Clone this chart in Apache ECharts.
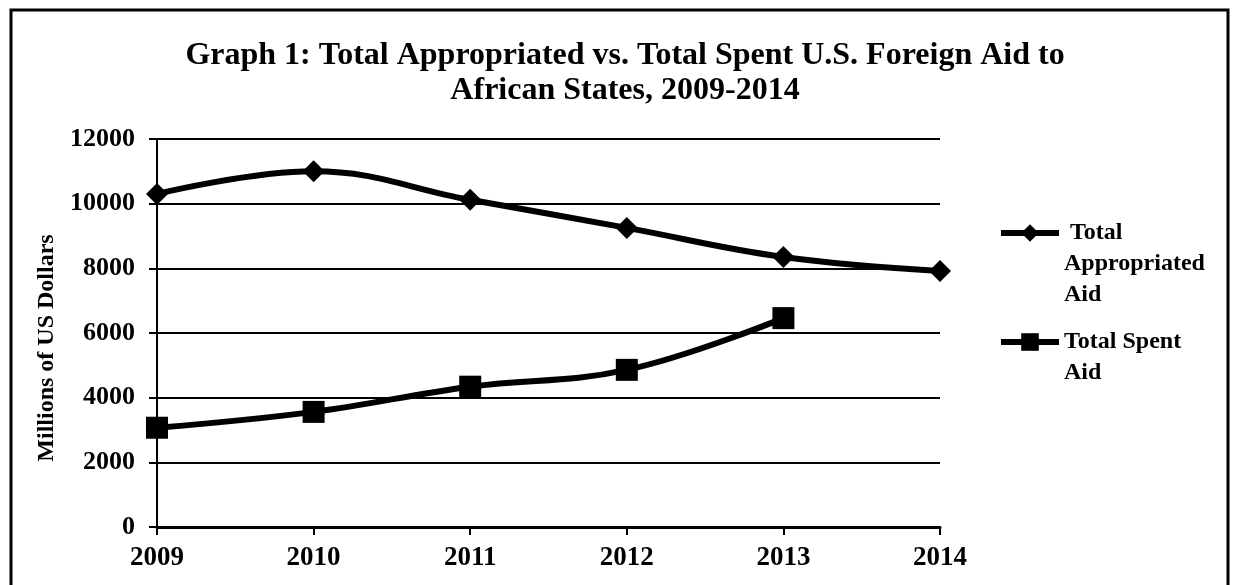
<!DOCTYPE html>
<html>
<head>
<meta charset="utf-8">
<script src="https://cdn.jsdelivr.net/npm/echarts@6/dist/echarts.min.js"></script>
<style>
html,body{margin:0;padding:0;background:#fff;}
#chart{width:1233px;height:585px;}
</style>
</head>
<body>
<div id="chart"></div>
<script>
const years = ['2009','2010','2011','2012','2013','2014'];
const appropriated = [10300, 11000, 10120, 9250, 8350, 7920];
const spent = [3070, 3560, 4340, 4860, 6460, null];
const yTicks = [0, 2000, 4000, 6000, 8000, 10000, 12000];

const serif = '"Liberation Serif", "Times New Roman", serif';
const chart = echarts.init(document.getElementById('chart'));
const L = 31;
const legendText = { fontFamily: serif, fontWeight: 'bold', fontSize: 24, lineHeight: L, color: '#000' };
chart.setOption({
  backgroundColor: '#fff',
  animation: false,
  title: {
    text: 'Graph 1: Total Appropriated vs. Total Spent U.S. Foreign Aid to\nAfrican States, 2009-2014',
    left: 620, top: 33, textAlign: 'center',
    textStyle: { fontFamily: serif, fontWeight: 'bold', fontSize: 32, lineHeight: 35, color: '#000' }
  },
  legend: [
    {
      orient: 'vertical', left: 998, top: 233 - 2.5 * L, padding: 0,
      itemWidth: 58, itemHeight: 22,
      lineStyle: { width: 6, color: '#000' },
      data: ['Total Appropriated Aid'],
      formatter: () => '\n\n Total\nAppropriated\nAid',
      textStyle: legendText
    },
    {
      orient: 'vertical', left: 998, top: 342 - 1.5 * L, padding: 0,
      itemWidth: 58, itemHeight: 22,
      lineStyle: { width: 6, color: '#000' },
      data: ['Total Spent Aid'],
      formatter: () => '\nTotal Spent\nAid',
      textStyle: legendText
    }
  ],
  grid: { left: 157, right: 293, top: 139, bottom: 58, containLabel: false },
  xAxis: {
    type: 'category', data: years, boundaryGap: false,
    axisLine: { lineStyle: { color: '#000', width: 3 } },
    axisTick: { show: true, length: 8, lineStyle: { color: '#000', width: 2 } },
    axisLabel: { margin: 18, fontFamily: serif, fontWeight: 'bold', fontSize: 27, color: '#000' },
    splitLine: { show: false }
  },
  yAxis: {
    type: 'value', min: 0, max: 12000, interval: 2000,
    name: 'Millions of US Dollars', nameLocation: 'middle', nameGap: 97,
    nameTextStyle: { fontFamily: serif, fontWeight: 'bold', fontSize: 24, color: '#000', padding: [0, 30, 0, 0] },
    axisLine: { show: true, lineStyle: { color: '#000', width: 2 } },
    axisTick: { show: true, length: 8, lineStyle: { color: '#000', width: 2 } },
    axisLabel: { margin: 22, fontFamily: serif, fontWeight: 'bold', fontSize: 26, color: '#000',
      formatter: v => String(v) },
    splitLine: { lineStyle: { color: '#000', width: 2 } }
  },
  series: [
    {
      name: 'Total Appropriated Aid', type: 'line', data: appropriated, smooth: 0.4,
      symbol: 'diamond', symbolSize: 22,
      lineStyle: { color: '#000', width: 6 },
      itemStyle: { color: '#000' }
    },
    {
      name: 'Total Spent Aid', type: 'line', data: spent, smooth: 0.4,
      symbol: 'rect', symbolSize: 22,
      lineStyle: { color: '#000', width: 6 },
      itemStyle: { color: '#000' }
    }
  ],
  graphic: [
    { type: 'rect', silent: true, z: 100,
      shape: { x: 11, y: 10, width: 1217, height: 600 },
      style: { fill: 'none', stroke: '#000', lineWidth: 3 } }
  ]
});
</script>
</body>
</html>
